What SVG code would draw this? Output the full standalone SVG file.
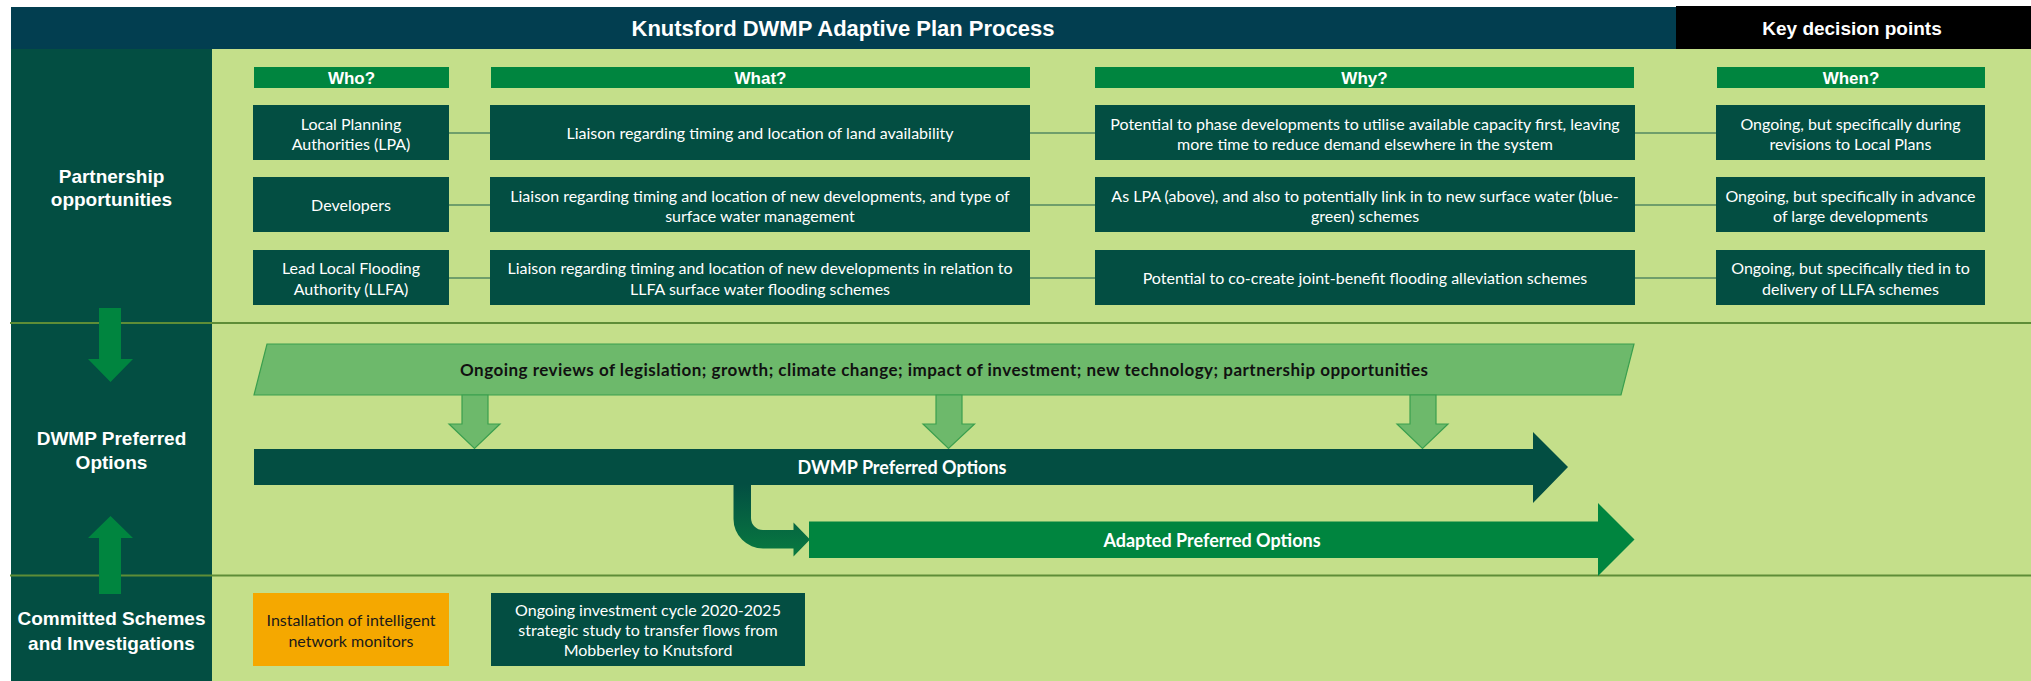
<svg xmlns="http://www.w3.org/2000/svg" width="2031" height="681" viewBox="0 0 2031 681">
  <defs>
    <style>
      .hd { font-family: "Liberation Sans", Arial, sans-serif; font-weight: bold; fill: #ffffff; text-anchor: middle; }
      .t22 { font-size: 22px; }
      .t19 { font-size: 19px; }
      .t17 { font-size: 17px; }
      .body { font-family: Lato, "Liberation Sans", sans-serif; font-size: 16px; fill: #ffffff; text-anchor: middle; }
      .dark { fill: #1a1a1a; }
      .lbl { font-family: Lato, "Liberation Sans", sans-serif; font-weight: bold; font-size: 18px; fill: #ffffff; text-anchor: middle; }
      .colbar { fill: #00853F; }
      .box { fill: #034E42; }
      .link { stroke: #6F9E6B; stroke-width: 2; fill: none; }
      .divider { stroke: #5E8D37; stroke-width: 2; }
      .driver { fill: #6DB96B; stroke: #3A9F4E; stroke-width: 1.2; }
    </style>
    <linearGradient id="bendFill" x1="0" y1="0" x2="0" y2="1">
      <stop offset="0" stop-color="#034E42"/>
      <stop offset="1" stop-color="#087A40"/>
    </linearGradient>
  </defs>

  <!-- page background -->
  <rect x="0" y="0" width="2031" height="681" fill="#ffffff"/>
  <rect x="212" y="49" width="1819" height="632" fill="#C4DF8A"/>
  <rect x="11" y="49" width="201" height="632" fill="#034E42"/>

  <!-- title bar -->
  <g id="title">
    <rect x="11" y="7" width="1665" height="42" fill="#023E50"/>
    <text class="hd t22" x="843" y="35.5">Knutsford DWMP Adaptive Plan Process</text>
  </g>
  <g id="key-decision-points">
    <rect x="1676" y="6" width="355" height="43" fill="#000000"/>
    <text class="hd t19" x="1852" y="35">Key decision points</text>
  </g>

  <!-- section dividers -->
  <g id="dividers">
    <line class="divider" x1="10" y1="323" x2="2031" y2="323"/>
    <line class="divider" x1="10" y1="575.5" x2="2031" y2="575.5"/>
  </g>

  <!-- section labels -->
  <g id="section-partnership">
    <text class="hd t19" x="111.5" y="183">Partnership</text>
    <text class="hd t19" x="111.5" y="206">opportunities</text>
  </g>
  <g id="section-preferred">
    <text class="hd t19" x="111.5" y="445">DWMP Preferred</text>
    <text class="hd t19" x="111.5" y="469">Options</text>
  </g>
  <g id="section-committed">
    <text class="hd t19" x="111.5" y="625">Committed Schemes</text>
    <text class="hd t19" x="111.5" y="650">and Investigations</text>
  </g>

  <!-- column headings -->
  <g id="col-who">
    <rect class="colbar" x="254" y="67" width="195" height="21"/>
    <text class="hd t17" x="351.5" y="84">Who?</text>
  </g>
  <g id="col-what">
    <rect class="colbar" x="491" y="67" width="539" height="21"/>
    <text class="hd t17" x="760.5" y="84">What?</text>
  </g>
  <g id="col-why">
    <rect class="colbar" x="1095" y="67" width="539" height="21"/>
    <text class="hd t17" x="1364.5" y="84">Why?</text>
  </g>
  <g id="col-when">
    <rect class="colbar" x="1717" y="67" width="268" height="21"/>
    <text class="hd t17" x="1851" y="84">When?</text>
  </g>

  <!-- links between cells of each partnership row -->
  <g id="connectors">
    <line class="link" x1="449" y1="133" x2="490" y2="133"/>
    <line class="link" x1="1030" y1="133" x2="1095" y2="133"/>
    <line class="link" x1="1635" y1="133" x2="1716" y2="133"/>
    <line class="link" x1="449" y1="205" x2="490" y2="205"/>
    <line class="link" x1="1030" y1="205" x2="1095" y2="205"/>
    <line class="link" x1="1635" y1="205" x2="1716" y2="205"/>
    <line class="link" x1="449" y1="278" x2="490" y2="278"/>
    <line class="link" x1="1030" y1="278" x2="1095" y2="278"/>
    <line class="link" x1="1635" y1="278" x2="1716" y2="278"/>
  </g>

  <!-- row 1 -->
  <g id="who-lpa">
    <rect class="box" x="253" y="105" width="196" height="55"/>
    <text class="body" x="351" y="129.5">Local Planning</text>
    <text class="body" x="351" y="150">Authorities (LPA)</text>
  </g>
  <g id="what-lpa">
    <rect class="box" x="490" y="105" width="540" height="55"/>
    <text class="body" x="760" y="138.5">Liaison regarding timing and location of land availability</text>
  </g>
  <g id="why-lpa">
    <rect class="box" x="1095" y="105" width="540" height="55"/>
    <text class="body" x="1365" y="129.5">Potential to phase developments to utilise available capacity first, leaving</text>
    <text class="body" x="1365" y="150">more time to reduce demand elsewhere in the system</text>
  </g>
  <g id="when-lpa">
    <rect class="box" x="1716" y="105" width="269" height="55"/>
    <text class="body" x="1850.5" y="129.5">Ongoing, but specifically during</text>
    <text class="body" x="1850.5" y="150">revisions to Local Plans</text>
  </g>

  <!-- row 2 -->
  <g id="who-developers">
    <rect class="box" x="253" y="177" width="196" height="55"/>
    <text class="body" x="351" y="210.5">Developers</text>
  </g>
  <g id="what-developers">
    <rect class="box" x="490" y="177" width="540" height="55"/>
    <text class="body" x="760" y="201.5">Liaison regarding timing and location of new developments, and type of</text>
    <text class="body" x="760" y="222">surface water management</text>
  </g>
  <g id="why-developers">
    <rect class="box" x="1095" y="177" width="540" height="55"/>
    <text class="body" x="1365" y="201.5">As LPA (above), and also to potentially link in to new surface water (blue-</text>
    <text class="body" x="1365" y="222">green) schemes</text>
  </g>
  <g id="when-developers">
    <rect class="box" x="1716" y="177" width="269" height="55"/>
    <text class="body" x="1850.5" y="201.5">Ongoing, but specifically in advance</text>
    <text class="body" x="1850.5" y="222">of large developments</text>
  </g>

  <!-- row 3 -->
  <g id="who-llfa">
    <rect class="box" x="253" y="250" width="196" height="55"/>
    <text class="body" x="351" y="274">Lead Local Flooding</text>
    <text class="body" x="351" y="294.5">Authority (LLFA)</text>
  </g>
  <g id="what-llfa">
    <rect class="box" x="490" y="250" width="540" height="55"/>
    <text class="body" x="760" y="274">Liaison regarding timing and location of new developments in relation to</text>
    <text class="body" x="760" y="294.5">LLFA surface water flooding schemes</text>
  </g>
  <g id="why-llfa">
    <rect class="box" x="1095" y="250" width="540" height="55"/>
    <text class="body" x="1365" y="283.5">Potential to co-create joint-benefit flooding alleviation schemes</text>
  </g>
  <g id="when-llfa">
    <rect class="box" x="1716" y="250" width="269" height="55"/>
    <text class="body" x="1850.5" y="274">Ongoing, but specifically tied in to</text>
    <text class="body" x="1850.5" y="294.5">delivery of LLFA schemes</text>
  </g>

  <!-- flow arrows in the label column -->
  <g id="arrow-down-left">
    <polygon fill="#00853F" points="99,308 121,308 121,359 133,359 110.5,382 88,359 99,359"/>
  </g>
  <g id="arrow-up-left">
    <polygon fill="#00853F" points="99,594 121,594 121,538 133,538 110.5,516 88,538 99,538"/>
  </g>

  <!-- ongoing review drivers -->
  <g id="review-drivers">
    <polygon class="driver" points="267,344 1634,344 1621,395 254,395"/>
    <text font-family="Lato, 'Liberation Sans', sans-serif" font-weight="bold" font-size="17" fill="#111111" text-anchor="middle" x="944" y="376" textLength="968">Ongoing reviews of legislation; growth; climate change; impact of investment; new technology; partnership opportunities</text>
  </g>
  <g id="review-arrows">
    <polygon class="driver" points="462,395 488,395 488,424 500,424 474.5,448.5 449,424 462,424"/>
    <polygon class="driver" points="936,395 962,395 962,424 974.5,424 948.5,448.5 923,424 936,424"/>
    <polygon class="driver" points="1410,395 1436,395 1436,424 1448,424 1422.5,448.5 1397,424 1410,424"/>
  </g>

  <!-- preferred options and adapted options -->
  <g id="dwmp-preferred-options">
    <polygon fill="#034E42" points="254,449 1533,449 1533,432 1568,467 1533,503 1533,485 254,485"/>
    <text class="lbl" x="902" y="474">DWMP Preferred Options</text>
  </g>
  <g id="bend-arrow">
    <path fill="url(#bendFill)" d="M733.5,484 L751,484 L751,518 A12,12 0 0 0 763,530 L793.5,530 L793.5,522.5 L810,539.5 L793.5,556.5 L793.5,548.5 L763,548.5 A29.5,29.5 0 0 1 733.5,519 Z"/>
  </g>
  <g id="adapted-preferred-options">
    <polygon fill="#00853F" points="809,521.5 1598,521.5 1598,503 1634.5,539.5 1598,576 1598,558 809,558"/>
    <text class="lbl" x="1212" y="547">Adapted Preferred Options</text>
  </g>

  <!-- committed schemes -->
  <g id="network-monitors">
    <rect x="253" y="593" width="196" height="73" fill="#F5A800"/>
    <text class="body dark" x="351" y="626">Installation of intelligent</text>
    <text class="body dark" x="351" y="647">network monitors</text>
  </g>
  <g id="investment-cycle">
    <rect class="box" x="491" y="593" width="314" height="73"/>
    <text class="body" x="648" y="615.5">Ongoing investment cycle 2020-2025</text>
    <text class="body" x="648" y="635.5">strategic study to transfer flows from</text>
    <text class="body" x="648" y="655.5">Mobberley to Knutsford</text>
  </g>
</svg>
